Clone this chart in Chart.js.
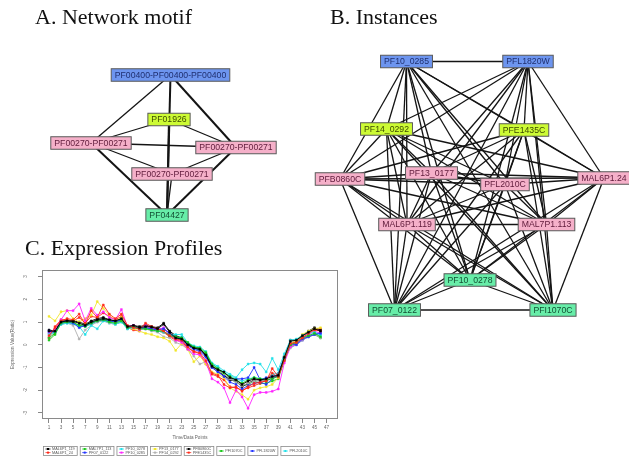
<!DOCTYPE html>
<html>
<head>
<meta charset="utf-8">
<script src="https://cdn.jsdelivr.net/npm/chart.js@4.4.1/dist/chart.umd.min.js"></script>
<style>
  body { margin: 0; background: #fff; }
  #page { position: relative; width: 629px; height: 456px; overflow: hidden; background: #fff; }
  .title { position: absolute; font-family: "Liberation Serif", "Times New Roman", serif; font-size: 22px; line-height: 22px; color: #111; white-space: nowrap; }
  canvas { position: absolute; }
</style>
</head>
<body>
<div id="page">
  <canvas id="expr" width="345" height="198" style="left:0;top:258px"></canvas>
  <canvas id="net" width="629" height="456" style="left:0;top:0"></canvas>
  <div class="title" style="left:35px;top:6px">A. Network motif</div>
  <div class="title" style="left:330px;top:6px">B. Instances</div>
  <div class="title" style="left:25px;top:237px">C. Expression Profiles</div>
</div>
<script>
// --- A. motif ---
const motifNames = ["PF00400-PF00400-PF00400", "PF01926", "PF00270-PF00271", "PF00270-PF00271", "PF00270-PF00271", "PF04427"];
const motifKinds = ["blue", "yellow", "pink", "pink", "pink", "green"];
const motifEdges = [[0, 2], [0, 3], [0, 5], [1, 5], [1, 2], [1, 3], [2, 3], [2, 4], [3, 4], [2, 5], [3, 5], [4, 5]];
const motifEdgeCount = [1, 2, 2, 2, 1, 1, 1, 1, 1, 2, 2, 1];

// --- B. instances ---
const instNames = ["PF10_0285", "PFL1820W", "PF14_0292", "PFE1435C", "PFB0860C", "PF13_0177", "PFL2010C",
  "MAL6P1.24", "MAL6P1.119", "MAL7P1.113", "PF10_0278", "PF07_0122", "PFI1070C"];
const instKinds = ["blue", "blue", "yellow", "yellow", "pink", "pink", "pink", "pink", "pink", "pink", "green", "green", "green"];
const instEdges = [
  [0, 1], [0, 2], [0, 3], [0, 4], [0, 5], [0, 6], [0, 7], [0, 8], [0, 9], [0, 10], [0, 11], [0, 12],
  [1, 2], [1, 3], [1, 4], [1, 5], [1, 6], [1, 7], [1, 8], [1, 9], [1, 10], [1, 11], [1, 12],
  [2, 4], [2, 5], [2, 6], [2, 7], [2, 8], [2, 9], [2, 10], [2, 11], [2, 12],
  [3, 4], [3, 5], [3, 6], [3, 7], [3, 8], [3, 9], [3, 10], [3, 11], [3, 12],
  [4, 5], [4, 6], [4, 7], [4, 8], [4, 9], [4, 10], [4, 11], [4, 12],
  [5, 6], [5, 7], [5, 8], [5, 9], [5, 10], [5, 11], [5, 12],
  [6, 7], [6, 8], [6, 9], [6, 10], [6, 11], [6, 12],
  [7, 8], [7, 9], [7, 10], [7, 11], [7, 12],
  [8, 9], [8, 10], [8, 11], [8, 12],
  [9, 10], [9, 11], [9, 12],
  [10, 11], [10, 12],
  [11, 12]
];

// --- C. expression profiles ---
const timePoints = [1, 2, 3, 4, 5, 6, 7, 8, 9, 10, 11, 12, 13, 14, 15, 16, 17, 18, 19, 20, 21, 22, 23,
  24, 25, 26, 27, 28, 29, 30, 31, 32, 33, 34, 35, 36, 37, 38, 39, 40, 41, 42, 43, 44, 45, 46];
const xTickLabels = [1, 3, 5, 7, 9, 11, 13, 15, 17, 19, 21, 23, 25, 27, 29, 31, 33, 35, 37, 39, 41, 43, 45, 47];
const yTickLabels = [-3, -2, -1, 0, 1, 2, 3];
const geneNames = ["MAL6P1_119", "MAL6P1_24", "MAL7P1_113", "PF07_0122", "PF10_0278", "PF10_0285", "PF13_0177",
  "PF14_0292", "PFB0860C", "PFE1435C", "PFI1070C", "PFL1820W", "PFL2010C"];

const mal6p1_119 = [0.6, 0.6, 1.0, 1.05, 1.02, 0.95, 0.85, 1.0, 1.1, 1.15, 1.1, 1.05, 1.15, 0.8, 0.85, 0.75, 0.8, 0.78, 0.7, 0.9,
  0.55, 0.3, 0.25, 0.0, -0.15, -0.2, -0.45, -0.95, -1.1, -1.2, -1.45, -1.55, -1.75, -1.6, -1.5, -1.55, -1.5, -1.4, -1.35, -0.55,
  0.15, 0.2, 0.4, 0.55, 0.7, 0.6];
const mal6p1_24 = [0.4, 0.75, 1.05, 1.15, 1.1, 1.35, 0.9, 1.5, 1.2, 1.75, 1.35, 1.15, 1.35, 0.85, 0.75, 0.7, 0.95, 0.8, 0.7, 0.6,
  0.4, 0.25, 0.2, -0.1, -0.3, -0.35, -0.7, -1.25, -1.35, -1.75, -1.9, -1.85, -2.05, -1.85, -1.7, -1.65, -1.6, -1.05, -1.4, -0.7,
  0.05, 0.1, 0.3, 0.5, 0.65, 0.6];
const mal7p1_113 = [0.3, 0.5, 0.95, 1.0, 1.0, 0.85, 0.9, 0.95, 1.05, 1.1, 1.0, 0.95, 1.05, 0.75, 0.8, 0.7, 0.7, 0.65, 0.6, 0.6,
  0.4, 0.35, 0.3, 0.1, -0.1, -0.15, -0.35, -0.85, -1.05, -1.25, -1.4, -1.55, -1.7, -1.55, -1.45, -1.5, -1.55, -1.5, -1.4, -0.65,
  0.0, 0.1, 0.3, 0.4, 0.5, 0.35];
const pf07_0122 = [0.6, 0.55, 0.95, 1.0, 0.95, 0.75, 0.85, 0.95, 1.05, 1.1, 1.05, 1.0, 1.1, 0.75, 0.8, 0.7, 0.75, 0.7, 0.65, 0.7,
  0.5, 0.3, 0.2, -0.05, -0.2, -0.3, -0.55, -1.0, -1.2, -1.4, -1.65, -1.75, -1.95, -1.8, -1.7, -1.65, -1.75, -1.5, -1.35, -0.6,
  0.05, 0.0, 0.25, 0.35, 0.45, 0.5];
const pf10_0278 = [0.45, 0.55, 0.9, 0.95, 0.95, 0.8, 0.45, 0.85, 0.7, 1.05, 1.0, 0.9, 1.0, 0.7, 0.75, 0.7, 0.75, 0.65, 0.6, 0.55,
  0.45, 0.45, 0.45, 0.1, -0.05, -0.1, -0.3, -0.8, -0.95, -1.15, -1.3, -1.45, -1.1, -0.85, -0.8, -0.85, -1.2, -0.6, -1.1, -0.4,
  0.2, 0.25, 0.4, 0.55, 0.55, 0.45];
const pf10_0285 = [0.5, 0.7, 1.1, 1.5, 1.5, 1.8, 1.05, 1.6, 1.3, 1.45, 1.2, 1.1, 1.55, 0.8, 0.85, 0.65, 0.85, 0.7, 0.65, 0.75,
  0.45, 0.2, 0.1, -0.2, -0.4, -0.45, -0.75, -1.5, -1.65, -1.9, -2.55, -2.0, -2.3, -2.8, -2.2, -2.1, -2.1, -2.05, -1.95, -0.8,
  -0.1, 0.05, 0.25, 0.45, 0.6, 0.5];
const pf13_0177 = [1.25, 1.05, 1.45, 1.5, 1.15, 1.0, 1.15, 1.3, 1.9, 1.6, 1.3, 1.05, 1.2, 0.75, 0.7, 0.6, 0.5, 0.45, 0.35, 0.3,
  0.15, -0.25, 0.05, -0.2, -0.75, -0.5, -0.85, -1.2, -1.3, -1.45, -1.9, -2.05, -2.2, -2.4, -2.0, -1.9, -1.85, -1.75, -1.45, -0.5,
  0.05, 0.2, 0.45, 0.6, 0.7, 0.75];
const pf14_0292 = [0.35, 0.55, 0.9, 0.95, 0.85, 0.25, 0.65, 0.85, 1.0, 1.05, 0.95, 0.9, 1.0, 0.7, 0.75, 0.65, 0.7, 0.6, 0.55, 0.35,
  0.3, 0.1, 0.0, -0.2, -0.5, -0.85, -0.75, -1.0, -1.15, -1.3, -1.5, -1.65, -1.8, -1.7, -1.6, -1.6, -1.55, -1.45, -1.3, -0.65,
  -0.15, 0.0, 0.2, 0.35, 0.45, 0.3];
const pfb0860c = [0.65, 0.6, 1.05, 1.05, 1.05, 1.0, 0.9, 1.05, 1.15, 1.2, 1.1, 1.05, 1.15, 0.8, 0.85, 0.8, 0.85, 0.8, 0.75, 0.95,
  0.6, 0.4, 0.3, 0.05, -0.1, -0.15, -0.5, -0.95, -1.15, -1.35, -1.55, -1.6, -1.85, -1.7, -1.55, -1.55, -1.6, -1.45, -1.3, -0.6,
  0.2, 0.2, 0.4, 0.6, 0.75, 0.65];
const pfe1435c = [0.3, 0.8, 1.1, 1.1, 1.05, 1.2, 0.95, 1.25, 1.2, 1.4, 1.25, 1.1, 1.25, 0.75, 0.65, 0.6, 0.85, 0.75, 0.6, 0.55,
  0.35, 0.2, 0.15, -0.15, -0.3, -0.4, -0.85, -1.3, -1.4, -1.55, -1.85, -1.9, -2.0, -1.9, -1.8, -1.7, -1.55, -1.25, -1.45, -0.55,
  0.05, 0.15, 0.35, 0.55, 0.65, 0.7];
const pfi1070c = [0.2, 0.45, 0.95, 1.0, 0.95, 0.85, 0.8, 0.95, 1.05, 1.15, 1.05, 1.0, 1.1, 0.75, 0.8, 0.7, 0.75, 0.7, 0.6, 0.6,
  0.4, 0.35, 0.25, 0.05, -0.15, -0.2, -0.4, -0.9, -1.1, -1.3, -1.5, -1.65, -1.8, -1.75, -1.6, -1.7, -1.7, -1.6, -1.5, -0.7,
  -0.05, 0.05, 0.25, 0.35, 0.45, 0.3];
const pfl1820w = [0.55, 0.6, 1.0, 1.05, 1.0, 0.8, 0.85, 1.0, 1.05, 1.1, 1.05, 1.0, 1.1, 0.75, 0.8, 0.7, 0.7, 0.7, 0.7, 0.7,
  0.5, 0.3, 0.25, 0.0, -0.15, -0.25, -0.5, -1.0, -1.2, -1.35, -1.5, -1.5, -1.5, -1.45, -1.0, -1.55, -1.45, -1.4, -1.3, -0.5,
  -0.1, 0.0, 0.2, 0.35, 0.45, 0.55];
const pfl2010c = [0.5, 0.55, 0.9, 0.95, 0.9, 0.85, 0.8, 0.9, 1.0, 1.05, 0.95, 0.9, 1.0, 0.7, 0.75, 0.7, 0.7, 0.65, 0.6, 0.55,
  0.4, 0.3, 0.35, 0.0, -0.15, -0.2, -0.4, -0.85, -1.0, -1.25, -1.35, -1.5, -1.6, -1.5, -1.45, -1.5, -1.5, -1.3, -1.25, -0.55,
  0.0, 0.1, 0.3, 0.45, 0.5, 0.4];

const geneValues = [mal6p1_119, mal6p1_24, mal7p1_113, pf07_0122, pf10_0278, pf10_0285, pf13_0177,
  pf14_0292, pfb0860c, pfe1435c, pfi1070c, pfl1820w, pfl2010c];

// layout of the two graphs, in page pixels
const motifLayout = [[170.5, 75], [169, 119.5], [91, 143], [236, 147.5], [172, 174], [167, 215]];
const instLayout = [[406.5, 61.5], [528, 61.5], [386.5, 129], [524, 130], [340, 179], [431.5, 173], [505, 184.5],
  [604, 178], [407, 224.5], [546.5, 224.5], [470, 280], [394.5, 310], [553, 310]];

const kindStyle = {
  blue: { fill: "#6d95ef", text: "#1f2f6f" },
  yellow: { fill: "#cdfb34", text: "#3b4a00" },
  pink: { fill: "#f5b0c9", text: "#5e1a3a" },
  green: { fill: "#67eda8", text: "#134f33" },
};

const netGraphs = [
  { names: motifNames, kinds: motifKinds, layout: motifLayout, edges: motifEdges, counts: motifEdgeCount },
  { names: instNames, kinds: instKinds, layout: instLayout, edges: instEdges, counts: instEdges.map(() => 1) },
];

const edgeSets = netGraphs.flatMap(({ layout, edges, counts }) =>
  edges.map(([a, b], i) => ({
    data: [{ x: layout[a][0], y: layout[a][1] }, { x: layout[b][0], y: layout[b][1] }],
    showLine: true,
    borderColor: "#141414",
    borderWidth: 0.6 + 0.7 * counts[i],
    pointRadius: 0,
  }))
);

const nodeBoxes = {
  id: "nodeBoxes",
  afterDatasetsDraw(chart) {
    const { ctx, scales: { x, y } } = chart;
    ctx.save();
    ctx.font = '8.7px "Liberation Sans", Arial, sans-serif';
    ctx.textAlign = "center";
    ctx.textBaseline = "middle";
    netGraphs.forEach(({ names, kinds, layout }) => {
      names.forEach((name, i) => {
        const px = x.getPixelForValue(layout[i][0]);
        const py = y.getPixelForValue(layout[i][1]);
        const w = ctx.measureText(name).width + 7;
        const h = 12.5;
        const st = kindStyle[kinds[i]];
        ctx.fillStyle = st.fill;
        ctx.fillRect(px - w / 2, py - h / 2, w, h);
        ctx.strokeStyle = "#5a5a5a";
        ctx.lineWidth = 1;
        ctx.strokeRect(px - w / 2, py - h / 2, w, h);
        ctx.fillStyle = st.text;
        ctx.fillText(name, px, py + 0.5);
      });
    });
    ctx.restore();
  },
};

new Chart(document.getElementById("net"), {
  type: "scatter",
  data: { datasets: edgeSets },
  options: {
    responsive: false,
    animation: false,
    devicePixelRatio: 1,
    events: [],
    layout: { padding: 0 },
    scales: {
      x: { type: "linear", min: 0, max: 629, display: false },
      y: { type: "linear", min: 0, max: 456, reverse: true, display: false },
    },
    plugins: { legend: { display: false }, tooltip: { enabled: false } },
  },
  plugins: [nodeBoxes],
});

// R default palette
const palette = ["#000000", "#ff2a1a", "#19c819", "#2233ff", "#22e0e8", "#ff22ff", "#f2e62a", "#b0b0b0",
  "#000000", "#ff2a1a", "#19c819", "#2233ff", "#22e0e8"];
const legendGroups = [[0, 1], [2, 3], [4, 5], [6, 7], [8, 9], [10], [11], [12]];

const exprDecor = {
  id: "exprDecor",
  afterDraw(chart) {
    const { ctx, chartArea: a, scales: { y } } = chart;
    ctx.save();
    ctx.strokeStyle = "#8a8a8a";
    ctx.lineWidth = 1;
    ctx.strokeRect(a.left + 0.5, a.top + 0.5, a.right - a.left - 1, a.bottom - a.top - 1);

    ctx.fillStyle = "#666";
    ctx.textAlign = "center";
    ctx.textBaseline = "middle";
    ctx.font = '4.6px "Liberation Sans", Arial, sans-serif';
    yTickLabels.forEach((v) => {
      ctx.save();
      ctx.translate(a.left - 16, y.getPixelForValue(v));
      ctx.rotate(-Math.PI / 2);
      ctx.fillText(String(v), 0, 0);
      ctx.restore();
    });
    ctx.save();
    ctx.translate(13, (a.top + a.bottom) / 2);
    ctx.rotate(-Math.PI / 2);
    ctx.fillText("Expression Value(Ratio)", 0, 0);
    ctx.restore();
    ctx.fillText("Time/Data Points", (a.left + a.right) / 2, a.bottom + 19);

    // legend boxes under the plot
    ctx.font = '3.8px "Liberation Sans", Arial, sans-serif';
    let bx = a.left + 1;
    const top = a.bottom + 27;
    legendGroups.forEach((group) => {
      const tw = Math.max(...group.map((i) => ctx.measureText(geneNames[i]).width));
      const w = tw + 11;
      ctx.strokeStyle = "#8a8a8a";
      ctx.lineWidth = 0.8;
      ctx.strokeRect(bx + 0.5, top + 0.5, w, 9);
      group.forEach((i, k) => {
        const ly = group.length === 2 ? top + 3 + k * 3.6 : top + 5;
        ctx.strokeStyle = palette[i];
        ctx.fillStyle = palette[i];
        ctx.beginPath();
        ctx.moveTo(bx + 2.5, ly);
        ctx.lineTo(bx + 7.5, ly);
        ctx.stroke();
        ctx.fillRect(bx + 4, ly - 1, 2, 2);
        ctx.fillStyle = "#555";
        ctx.textAlign = "left";
        ctx.fillText(geneNames[i], bx + 9, ly);
      });
      bx += w + 3;
    });
    ctx.restore();
  },
};

new Chart(document.getElementById("expr"), {
  type: "line",
  data: {
    datasets: geneValues.map((vals, i) => ({
      label: geneNames[i],
      data: vals.map((v, k) => ({ x: timePoints[k], y: v })),
      borderColor: palette[i],
      backgroundColor: palette[i],
      borderWidth: 0.9,
      pointStyle: "rect",
      pointRadius: 1.3,
      pointBorderWidth: 0.5,
      tension: 0,
      fill: false,
    })),
  },
  options: {
    responsive: false,
    animation: false,
    devicePixelRatio: 1,
    events: [],
    layout: { padding: { left: 0, right: 7, top: 12, bottom: 0 } },
    scales: {
      x: {
        type: "linear",
        min: -0.16,
        max: 48.9,
        afterBuildTicks: (scale) => { scale.ticks = xTickLabels.map((v) => ({ value: v })); },
        afterFit: (scale) => { scale.height = 37; },
        grid: { drawOnChartArea: false, drawTicks: true, tickLength: 4, color: "#888" },
        border: { display: false },
        ticks: { autoSkip: false, maxRotation: 0, padding: 2, color: "#666",
          font: { size: 4.6, family: '"Liberation Sans", Arial, sans-serif' } },
      },
      y: {
        type: "linear",
        min: -3.27,
        max: 3.29,
        afterBuildTicks: (scale) => { scale.ticks = yTickLabels.map((v) => ({ value: v })); },
        afterFit: (scale) => { scale.width = 42; },
        grid: { drawOnChartArea: false, drawTicks: true, tickLength: 4, color: "#888" },
        border: { display: false },
        ticks: { display: false },
      },
    },
    plugins: { legend: { display: false }, tooltip: { enabled: false } },
  },
  plugins: [exprDecor],
});
</script>
</body>
</html>
